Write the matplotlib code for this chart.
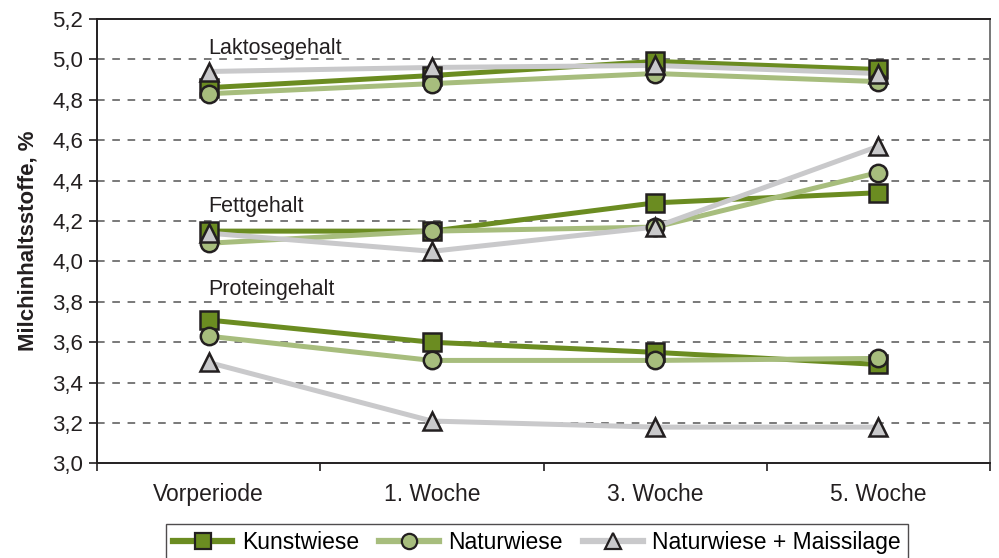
import numpy as np
import matplotlib
matplotlib.use("Agg")
import matplotlib.pyplot as plt

plt.rcParams['font.family'] = ['Liberation Sans', 'DejaVu Sans']

perioden = ["Vorperiode", "1. Woche", "3. Woche", "5. Woche"]
serien = ["Kunstwiese", "Naturwiese", "Naturwiese + Maissilage"]

# Laktose, Fett, Protein je Serie
laktose = {
    "Kunstwiese": [4.86, 4.92, 4.99, 4.95],
    "Naturwiese": [4.83, 4.88, 4.93, 4.89],
    "Naturwiese + Maissilage": [4.94, 4.96, 4.97, 4.93],
}
fett = {
    "Kunstwiese": [4.15, 4.15, 4.29, 4.34],
    "Naturwiese": [4.09, 4.15, 4.17, 4.44],
    "Naturwiese + Maissilage": [4.14, 4.05, 4.17, 4.57],
}
protein = {
    "Kunstwiese": [3.71, 3.60, 3.55, 3.49],
    "Naturwiese": [3.63, 3.51, 3.51, 3.52],
    "Naturwiese + Maissilage": [3.50, 3.21, 3.18, 3.18],
}
gruppen = ["Laktosegehalt", "Fettgehalt", "Proteingehalt"]
gruppen_label_y = [5.0, 4.22, 3.81]

farben = {"Kunstwiese": "#6b8c21", "Naturwiese": "#a7bd7d", "Naturwiese + Maissilage": "#c9c9cb"}
marker = {"Kunstwiese": "s", "Naturwiese": "o", "Naturwiese + Maissilage": "^"}
kante = "#231f20"

fig = plt.figure(figsize=(9.99, 5.58), dpi=100)
ax = fig.add_axes([0.0971, 0.1694, 0.8939, 0.7966])

x = np.arange(len(perioden)) + 0.5

for daten in [laktose, fett, protein]:
    for s in serien:
        ax.plot(x, daten[s], color=farben[s], lw=3.6, zorder=2, solid_capstyle="butt")
for daten in [laktose, fett, protein]:
    for i, s in enumerate(serien):
        ax.plot(x, daten[s], ls="none", marker=marker[s], ms=12.5 if s != "Naturwiese + Maissilage" else 13,
                mfc=farben[s], mec=kante, mew=1.8, zorder=3 + i)

for g, gy in zip(gruppen, gruppen_label_y):
    ax.text(x[0], gy, g, fontsize=15.5, color="#231f20", ha="left", va="bottom")

ax.set_xlim(0, 4)
ax.set_ylim(3.0, 5.2)
ax.set_yticks(np.arange(3.0, 5.21, 0.2))
ax.set_yticklabels([f"{v:.1f}".replace(".", ",") for v in np.arange(3.0, 5.21, 0.2)], fontsize=16, color="#231f20")
ax.set_xticks(range(5))
ax.set_xticklabels([])
ax.set_xticks(x, minor=True)
ax.set_xticklabels(perioden, minor=True, fontsize=16.5, color="#231f20")
ax.tick_params(axis="x", which="minor", length=0, pad=14)
ax.tick_params(axis="both", which="major", direction="out", length=6, width=1.2, color="#231f20")
ax.tick_params(axis="y", pad=4)

for v in np.arange(3.2, 5.01, 0.2):
    ax.axhline(v, color="#555555", lw=1.1, ls=(0, (5, 5)), zorder=1)

for side in ["left", "bottom", "top"]:
    ax.spines[side].set_color("#231f20")
    ax.spines[side].set_linewidth(1.4)
ax.spines["right"].set_color("#777777")
ax.spines["right"].set_linewidth(1.4)

ax.set_ylabel("Milchinhaltsstoffe, %", fontsize=16, fontweight="bold", color="#231f20", labelpad=10)

handles = [plt.Line2D([], [], color=farben[s], lw=4.5, marker=marker[s], ms=11, mfc=farben[s],
                      mec=kante, mew=1.6) for s in serien]
leg = fig.legend(handles, serien, loc="upper left", bbox_to_anchor=(0.1662, 0.0609), ncol=3,
                 fontsize=16.5, frameon=True, fancybox=False, handlelength=2.6, handletextpad=0.4,
                 columnspacing=0.9, borderpad=0.3, borderaxespad=0)
leg.get_frame().set_edgecolor("#231f20")
leg.get_frame().set_linewidth(1.0)

fig.savefig("out.png", dpi=100)
